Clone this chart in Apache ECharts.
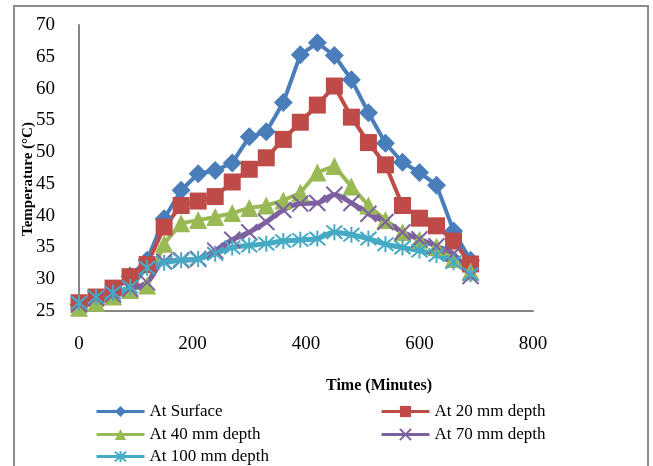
<!DOCTYPE html>
<html>
<head>
<meta charset="utf-8">
<title>Temperature vs Time</title>
<script src="https://cdn.jsdelivr.net/npm/echarts@6/dist/echarts.min.js"></script>
<style>
  html, body { margin: 0; padding: 0; background: #ffffff; }
  #chart { width: 653px; height: 466px; }
</style>
</head>
<body>
<div id="chart"></div>
<script>
// Time of reading (minutes)
var times = [0, 30, 60, 90, 120, 150, 180, 210, 240, 270, 300, 330, 360, 390, 420, 450, 480, 510, 540, 570, 600, 630, 660, 690];

// Temperature (°C) at each depth
var surface = [26, 27, 28, 30.5, 33, 39.5, 44, 46.6, 47.1, 48.3, 52.4, 53.2, 57.8, 65.3, 67.2, 65.2, 61.4, 56.2, 51.4, 48.4, 46.8, 44.8, 37.6, 33];
var depth20 = [26.3, 27.2, 28.6, 30.4, 32.3, 38.2, 41.6, 42.3, 43, 45.3, 47.3, 49.1, 52, 54.7, 57.4, 60.4, 55.5, 51.5, 48, 41.6, 39.6, 38.4, 36, 32.4];
var depth40 = [25.5, 26.3, 27.3, 28.3, 29, 35.6, 38.8, 39.3, 39.8, 40.4, 41.2, 41.6, 42.4, 43.6, 46.8, 47.8, 44.6, 41.6, 39.3, 37.4, 36.2, 35.1, 33.2, 31.2];
var depth70 = [26, 27, 27.6, 28.5, 29.5, 32.8, 33, 33.2, 34.5, 36.2, 37.4, 39, 40.9, 41.9, 42, 43.3, 42, 40.3, 39, 37.4, 36.3, 35.2, 34, 30.5];
var depth100 = [26.3, 27.2, 27.9, 28.8, 31.8, 32.6, 33, 33.2, 34, 35, 35.3, 35.6, 36, 36.2, 36.4, 37.4, 37, 36.4, 35.5, 35, 34.5, 33.8, 32.7, 30.8];

var seriesNames = ['At Surface', 'At 20 mm depth', 'At 40 mm depth', 'At 70 mm depth', 'At 100 mm depth'];

// X-axis tick labels and Y-axis range
var xTicks = [0, 200, 400, 600, 800];
var yMin = 25, yMax = 70, yStep = 5;

function pairs(values) {
  return times.map(function (t, i) { return [t, values[i]]; });
}

var FONT = '"Liberation Serif", "Times New Roman", serif';
var crossPath = 'path://M0,0L10,10M10,0L0,10';
var starPath = 'path://M0,0L10,10M10,0L0,10M5,-1L5,11';

function lineSeries(name, values, color, symbol, size, opts) {
  var s = {
    name: name,
    type: 'line',
    data: pairs(values),
    symbol: symbol,
    symbolSize: size,
    lineStyle: { color: color, width: 4 },
    itemStyle: { color: color },
    emphasis: { disabled: true },
    animation: false
  };
  if (opts) { for (var k in opts) s[k] = opts[k]; }
  return s;
}

// One legend entry per slot: two columns, three rows
function legendItem(name, left, top) {
  return {
    data: [name],
    left: left, top: top,
    padding: 0,
    itemWidth: 48, itemHeight: 14,
    lineStyle: { width: 3 },
    textStyle: { color: '#000', fontFamily: FONT, fontSize: 17 },
    selectedMode: false
  };
}

var chart = echarts.init(document.getElementById('chart'), null, { renderer: 'canvas' });

chart.setOption({
  backgroundColor: '#ffffff',
  animation: false,
  grid: { left: 79, top: 25, right: 120, bottom: 155, containLabel: false },
  xAxis: {
    type: 'value',
    min: xTicks[0],
    max: xTicks[xTicks.length - 1],
    interval: 200,
    axisLine: { lineStyle: { color: '#868686', width: 2 } },
    axisTick: { show: false },
    splitLine: { show: false },
    axisLabel: { color: '#000', fontFamily: FONT, fontSize: 19, margin: 24 }
  },
  yAxis: {
    type: 'value',
    min: yMin,
    max: yMax,
    interval: yStep,
    axisLine: { show: true, lineStyle: { color: '#868686', width: 2 } },
    axisTick: { show: false },
    splitLine: { show: false },
    axisLabel: { color: '#000', fontFamily: FONT, fontSize: 19, margin: 24 }
  },
  legend: [
    legendItem(seriesNames[0], 95, 403),
    legendItem(seriesNames[1], 380, 403),
    legendItem(seriesNames[2], 95, 426),
    legendItem(seriesNames[3], 380, 426),
    legendItem(seriesNames[4], 95, 448)
  ],
  graphic: [
    {
      type: 'rect',
      shape: { x: 14, y: 6, width: 634, height: 480 },
      style: { fill: 'none', stroke: '#8c8c8c', lineWidth: 2 },
      silent: true, z: -1
    },
    {
      type: 'text',
      x: 379, y: 386,
      style: {
        text: 'Time (Minutes)', fill: '#000',
        font: 'bold 16px ' + FONT,
        align: 'center', verticalAlign: 'middle'
      },
      silent: true
    },
    {
      type: 'text',
      x: 28, y: 179,
      rotation: Math.PI / 2,
      style: {
        text: 'Temperature (°C)', fill: '#000',
        font: 'bold 15px ' + FONT,
        align: 'center', verticalAlign: 'middle'
      },
      silent: true
    }
  ],
  series: [
    lineSeries(seriesNames[0], surface, '#4A7EBB', 'diamond', 19),
    lineSeries(seriesNames[1], depth20, '#BE4B48', 'rect', 17),
    lineSeries(seriesNames[2], depth40, '#98B954', 'triangle', 18),
    lineSeries(seriesNames[3], depth70, '#7D60A0', crossPath, 16, {
      smooth: 0.35,
      lineStyle: { color: '#7D60A0', width: 5 },
      itemStyle: { color: 'rgba(0,0,0,0)', borderColor: '#7D60A0', borderWidth: 2 }
    }),
    lineSeries(seriesNames[4], depth100, '#46AAC5', starPath, 16, {
      smooth: 0.35,
      lineStyle: { color: '#46AAC5', width: 5 },
      itemStyle: { color: 'rgba(0,0,0,0)', borderColor: '#46AAC5', borderWidth: 2 }
    })
  ]
});
</script>
</body>
</html>
